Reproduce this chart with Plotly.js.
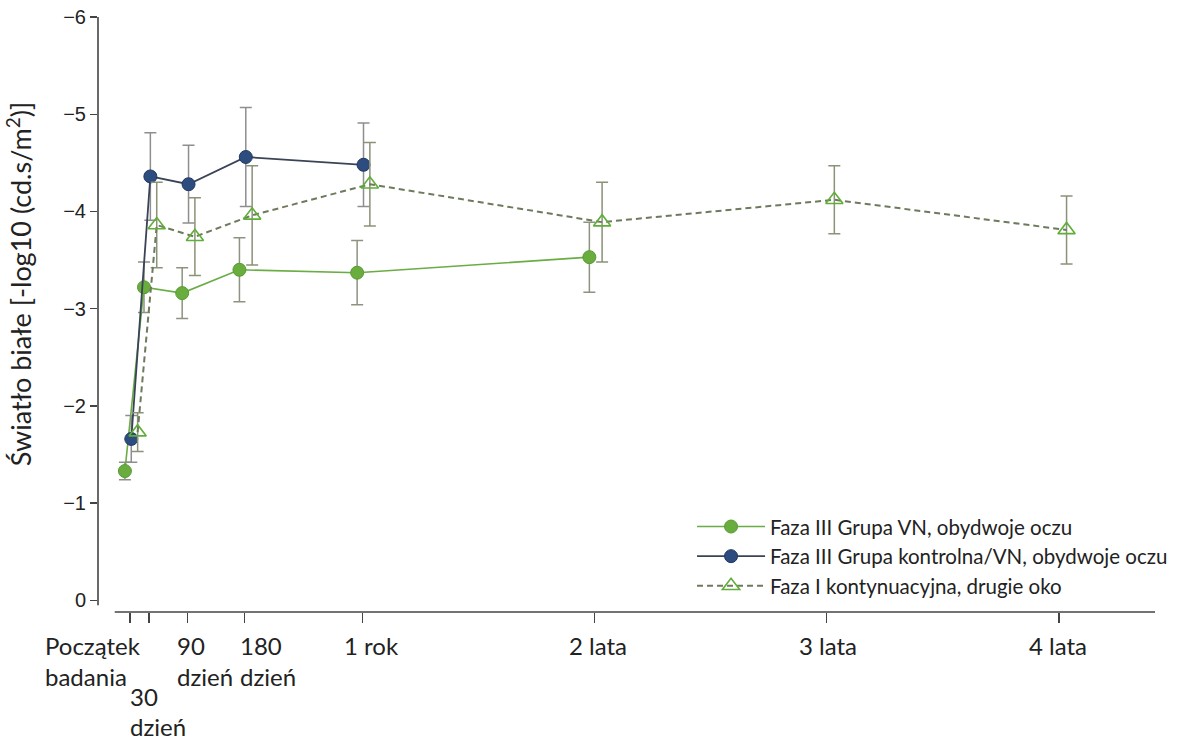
<!DOCTYPE html>
<html>
<head>
<meta charset="utf-8">
<script src="https://cdn.plot.ly/plotly-3.0.1.min.js"></script>
<style>
  html, body { margin: 0; padding: 0; background: #ffffff; }
  #chart { width: 1191px; height: 741px; }
</style>
</head>
<body>
<div id="chart"></div>
<script>
// Visit times in days since study start
const tickDays = [0, 30, 90, 180, 365, 730, 1095, 1460];
const tickLabels = ['Początek<br>badania', '30<br>dzień', '90<br>dzień', '180<br>dzień', '1 rok', '2 lata', '3 lata', '4 lata'];

// Faza III Grupa VN, obydwoje oczu
const vnDays = [0, 30, 90, 180, 365, 730];
const vnValues = [-1.33, -3.22, -3.16, -3.40, -3.37, -3.53];
const vnErrors = [0.09, 0.26, 0.26, 0.33, 0.33, 0.36];

// Faza III Grupa kontrolna/VN, obydwoje oczu
const ctrlDays = [0, 30, 90, 180, 365];
const ctrlValues = [-1.66, -4.36, -4.28, -4.56, -4.48];
const ctrlErrors = [0.24, 0.45, 0.40, 0.51, 0.43];

// Faza I kontynuacyjna, drugie oko
const ph1Days = [0, 30, 90, 180, 365, 730, 1095, 1460];
const ph1Values = [-1.73, -3.86, -3.74, -3.96, -4.28, -3.89, -4.12, -3.81];
const ph1Errors = [0.20, 0.44, 0.40, 0.51, 0.43, 0.41, 0.35, 0.35];

const seriesNames = [
  'Faza III Grupa VN, obydwoje oczu',
  'Faza III Grupa kontrolna/VN, obydwoje oczu',
  'Faza I kontynuacyjna, drugie oko'
];
const yTitle = 'Światło białe [-log10 (cd.s/m<sup>2</sup>)]';

// Horizontal dodge (days) so overlapping groups stay readable
const dodge = [-8, 2, 12];
const shift = (days, d) => days.map(v => v + d);

const FONT = 'Lato, "Open Sans", sans-serif';

function errorBar(arr, color) {
  return { type: 'data', array: arr, symmetric: true, visible: true,
           color: color, thickness: 1.5, width: 6 };
}

const traces = [
  {
    x: shift(vnDays, dodge[0]), y: vnValues, name: seriesNames[0],
    type: 'scatter', mode: 'lines+markers',
    line: { color: '#6aad45', width: 1.6 },
    marker: { symbol: 'circle', size: 13, color: '#68ad3e', line: { color: '#5a9a35', width: 1 } },
    error_y: errorBar(vnErrors, '#8d9380')
  },
  {
    x: shift(ctrlDays, dodge[1]), y: ctrlValues, name: seriesNames[1],
    type: 'scatter', mode: 'lines+markers',
    line: { color: '#3a4457', width: 1.8 },
    marker: { symbol: 'circle', size: 13, color: '#2d4d80', line: { color: '#23395e', width: 1 } },
    error_y: errorBar(ctrlErrors, '#8e8e8e')
  },
  {
    x: shift(ph1Days, dodge[2]), y: ph1Values, name: seriesNames[2],
    type: 'scatter', mode: 'lines+markers',
    line: { color: '#6e7a5c', width: 2, dash: '6px,4px' },
    marker: { symbol: 'triangle-up-open', size: 15, color: '#5fae37', line: { width: 1.6 } },
    error_y: errorBar(ph1Errors, '#8a9278')
  }
];

// Per-label placement of the x tick texts:
// [xanchor, xshift px, first-line offset px, line gap px]
const labelPlacement = [
  ['left', -87, 0, 31], ['left', -21, 51, 30], ['left', -12, 0, 31], ['left', -7, 0, 31],
  ['center', 9, 0, 31], ['center', 4, 0, 31], ['center', 1, 0, 31], ['center', -1, 0, 31]
];

const annotations = [];
tickDays.forEach((d, i) => {
  const lines = tickLabels[i].split('<br>');
  const [anchor, xs, y0, gap] = labelPlacement[i];
  lines.forEach((txt, j) => {
    annotations.push({
      x: d, xref: 'x', y: 0, yref: 'paper',
      text: txt, showarrow: false,
      xanchor: anchor, yanchor: 'middle', align: 'left',
      xshift: xs, yshift: -(33 + y0 + j * gap),
      font: { family: FONT, size: 24, color: '#222222' }
    });
  });
});

annotations.push({
  x: 0, xref: 'paper', xshift: -79, y: 0.551, yref: 'paper',
  text: yTitle, textangle: -90, showarrow: false,
  xanchor: 'center', yanchor: 'middle',
  font: { family: FONT, size: 27, color: '#222222' }
});

const layout = {
  width: 1191, height: 741,
  margin: { l: 98, r: 36, t: 17, b: 129 },
  paper_bgcolor: '#ffffff', plot_bgcolor: '#ffffff',
  showlegend: true,
  hovermode: false,
  xaxis: {
    range: [-50.3, 1611],
    tickvals: tickDays, showticklabels: false,
    ticks: 'outside', ticklen: 10, tickwidth: 1.3, tickcolor: '#444444',
    showgrid: false, zeroline: false, showline: false
  },
  yaxis: {
    range: [0.12, -6],
    tickvals: [0, -1, -2, -3, -4, -5, -6],
    ticks: 'outside', ticklen: 7, tickwidth: 1.3, tickcolor: '#444444',
    tickfont: { family: '"Liberation Sans", Arial, sans-serif', size: 20, color: '#222222' },
    showgrid: false, zeroline: false, showline: false
  },
  shapes: [
    { type: 'line', xref: 'paper', x0: 0, x1: 0, yref: 'y', y0: 0.05, y1: -6,
      line: { color: '#444444', width: 1.6 } },
    { type: 'line', xref: 'x', x0: -24, x1: 1611, yref: 'paper', y0: 0, y1: 0,
      line: { color: '#444444', width: 1.6 } }
  ],
  legend: {
    x: 0.562, xanchor: 'left', y: 0.177, yanchor: 'top',
    bgcolor: 'rgba(255,255,255,0)', borderwidth: 0,
    itemwidth: 68, tracegroupgap: 0,
    font: { family: FONT, size: 20.5, color: '#222222' }
  },
  annotations: annotations
};

Plotly.newPlot('chart', traces, layout, { displayModeBar: false, staticPlot: true });
</script>
</body>
</html>
